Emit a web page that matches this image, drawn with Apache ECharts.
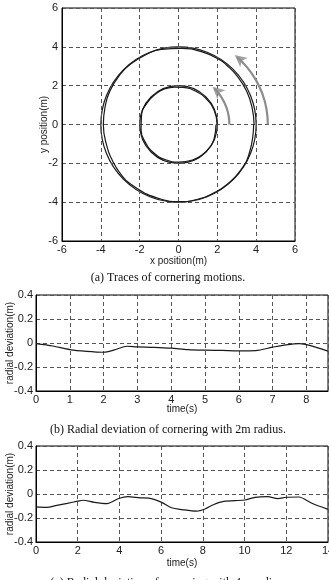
<!DOCTYPE html>
<html><head><meta charset="utf-8">
<script src="https://cdn.jsdelivr.net/npm/echarts@6/dist/echarts.min.js"></script>
<style>html,body{margin:0;padding:0;background:#fff}#c{width:329px;height:580px}</style>
</head><body><div id="c"></div>
<script>
// ---- data ----
const refRadii = [2, 4];                 // commanded cornering radii (m)
const arrowRadii = [2.62, 4.6];           // direction arrows (m)
const arrowArcAngles = [0, 9, 18, 27, 36, 45];   // deg, inner arrow arc
const arrowArcAngles2 = [0, 10, 20, 30, 40, 49]; // deg, outer arrow arc
const arrowHeadAngles = [48, 51];         // deg
const posTicks = [-6, -4, -2, 0, 2, 4, 6];

// (b) radial deviation, 2 m radius
const tB   = [0, 0.5, 1, 1.5, 2, 2.3, 2.7, 3, 3.5, 4, 4.5, 5, 5.5, 6, 6.5, 7, 7.4, 7.8, 8.1, 8.64];
const devB = [-0.005, -0.025, -0.055, -0.07, -0.077, -0.06, -0.027, -0.032, -0.036, -0.043, -0.055, -0.06, -0.062, -0.065, -0.063, -0.035, -0.015, -0.005, -0.02, -0.068];

// (c) radial deviation, 4 m radius
const tC   = [0, 0.5, 1, 1.5, 2, 2.25, 2.8, 3.4, 4, 4.4, 5, 5.4, 6, 6.5, 7, 7.7, 8.1, 8.5, 9, 10, 10.5, 11.1, 11.6, 12, 12.6, 13.2, 14];
const devC = [-0.108, -0.112, -0.095, -0.078, -0.06, -0.052, -0.07, -0.08, -0.035, -0.022, -0.032, -0.035, -0.068, -0.115, -0.13, -0.143, -0.125, -0.09, -0.062, -0.05, -0.028, -0.022, -0.038, -0.027, -0.025, -0.075, -0.128];

const captions = ['(a) Traces of cornering motions.',
                  '(b) Radial deviation of cornering with 2m radius.',
                  '(c) Radial deviation of cornering with 4m radius.'];

// ---- styling ----
const SANS = 'Liberation Sans, Arial, sans-serif';
const SERIF = 'Liberation Serif, Times New Roman, serif';
const txt = '#222';
const dash = {show: true, lineStyle: {color: '#555', width: 1, type: [4, 3]}};
const axLine = {show: true, onZero: false, lineStyle: {color: '#000', width: 1}};
const lbl = {color: txt, fontFamily: SANS, fontSize: 11};
const nameStyle = {color: txt, fontFamily: SANS, fontSize: 10};

const CX = 178.5, CY = 124.5, R6 = 116.5;
const hiddenPolarAxis = {axisLine: {show: false}, axisTick: {show: false}, axisLabel: {show: false}, splitLine: {show: false}};

const chart = echarts.init(document.getElementById('c'), null, {renderer: 'canvas'});
chart.setOption({
  animation: false,
  backgroundColor: '#fff',
  grid: [
    {left: 62, top: 8, width: 233, height: 233, show: true, borderColor: '#000', borderWidth: 1, containLabel: false, outerBoundsMode: 'none'},
    {left: 36, top: 295, width: 292, height: 96, show: true, borderColor: '#000', borderWidth: 1, containLabel: false, outerBoundsMode: 'none'},
    {left: 36, top: 446, width: 292, height: 96, show: true, borderColor: '#000', borderWidth: 1, containLabel: false, outerBoundsMode: 'none'}
  ],
  xAxis: [
    {gridIndex: 0, type: 'value', min: -6, max: 6, interval: 2, axisLine: axLine, axisTick: {show: false},
     axisLabel: Object.assign({margin: 3}, lbl), splitLine: dash, nameMoveOverlap: false,
     name: 'x position(m)', nameLocation: 'middle', nameGap: 15, nameTextStyle: nameStyle},
    {gridIndex: 1, type: 'value', min: 0, max: tB[tB.length - 1], interval: 1, axisLine: axLine, axisTick: {show: false},
     axisLabel: Object.assign({margin: 3, showMaxLabel: false}, lbl), splitLine: dash, nameMoveOverlap: false,
     name: 'time(s)', nameLocation: 'middle', nameGap: 13, nameTextStyle: nameStyle},
    {gridIndex: 2, type: 'value', min: 0, max: 14, interval: 2, axisLine: axLine, axisTick: {show: false},
     axisLabel: Object.assign({margin: 3}, lbl), splitLine: dash, nameMoveOverlap: false,
     name: 'time(s)', nameLocation: 'middle', nameGap: 16, nameTextStyle: nameStyle}
  ],
  yAxis: [
    {gridIndex: 0, type: 'value', min: -6, max: 6, interval: 2, axisLine: axLine, axisTick: {show: false},
     axisLabel: Object.assign({margin: 4}, lbl), splitLine: dash, nameMoveOverlap: false,
     name: 'y position(m)', nameLocation: 'middle', nameGap: 13, nameTextStyle: nameStyle},
    {gridIndex: 1, type: 'value', min: -0.4, max: 0.4, interval: 0.2, axisLine: axLine, axisTick: {show: false},
     axisLabel: Object.assign({margin: 3}, lbl), splitLine: dash, nameMoveOverlap: false,
     name: 'radial deviation(m)', nameLocation: 'middle', nameGap: 21, nameTextStyle: nameStyle},
    {gridIndex: 2, type: 'value', min: -0.4, max: 0.4, interval: 0.2, axisLine: axLine, axisTick: {show: false},
     axisLabel: Object.assign({margin: 3}, lbl), splitLine: dash, nameMoveOverlap: false,
     name: 'radial deviation(m)', nameLocation: 'middle', nameGap: 21, nameTextStyle: nameStyle}
  ],
  polar: [
    {center: [CX, CY], radius: R6 * refRadii[1] / 6},
    {center: [CX, CY], radius: R6},
    {center: [CX, CY], radius: R6},
    {center: [CX, CY], radius: R6}
  ],
  radiusAxis: [
    {polarIndex: 0, type: 'value', min: 0, max: refRadii[1], interval: refRadii[1] - refRadii[0],
     axisLine: {show: false}, axisTick: {show: false}, axisLabel: {show: false},
     splitLine: {show: true, lineStyle: {color: '#1a1a1a', width: 1.2}}},
    Object.assign({polarIndex: 1, type: 'value', min: 0, max: 6}, hiddenPolarAxis),
    Object.assign({polarIndex: 2, type: 'value', min: 0, max: 6}, hiddenPolarAxis),
    Object.assign({polarIndex: 3, type: 'value', min: 0, max: 6}, hiddenPolarAxis)
  ],
  angleAxis: [
    Object.assign({polarIndex: 0, type: 'value', min: 0, max: 360, startAngle: 0, clockwise: false}, hiddenPolarAxis),
    Object.assign({polarIndex: 1, type: 'value', min: 0, max: tB[tB.length - 1], startAngle: 0, clockwise: false}, hiddenPolarAxis),
    Object.assign({polarIndex: 2, type: 'value', min: 0, max: tC[tC.length - 1], startAngle: 0, clockwise: false}, hiddenPolarAxis),
    Object.assign({polarIndex: 3, type: 'value', min: 0, max: 360, startAngle: 0, clockwise: false}, hiddenPolarAxis)
  ],
  series: [
    {type: 'line', coordinateSystem: 'polar', polarIndex: 1, symbol: 'none', smooth: 0.5,
     lineStyle: {color: '#1a1a1a', width: 1.2},
     data: tB.map((t, i) => [refRadii[0] + devB[i], t])},
    {type: 'line', coordinateSystem: 'polar', polarIndex: 2, symbol: 'none', smooth: 0.5,
     lineStyle: {color: '#1a1a1a', width: 1.2},
     data: tC.map((t, i) => [refRadii[1] + devC[i], t])},
    {type: 'line', coordinateSystem: 'polar', polarIndex: 3, symbol: 'none', smooth: 0.5,
     lineStyle: {color: '#8c8c8c', width: 2.2},
     data: arrowArcAngles.map(a => [arrowRadii[0], a])},
    {type: 'line', coordinateSystem: 'polar', polarIndex: 3, symbol: 'none', smooth: 0.5,
     lineStyle: {color: '#8c8c8c', width: 2.2},
     data: arrowArcAngles2.map(a => [arrowRadii[1], a])},
    {type: 'scatter', coordinateSystem: 'polar', polarIndex: 3, symbol: 'arrow', symbolSize: [9, 12],
     itemStyle: {color: '#8c8c8c'},
     data: arrowRadii.map((r, i) => ({value: [r, arrowHeadAngles[i]], symbolRotate: arrowHeadAngles[i]}))},
    {type: 'line', xAxisIndex: 1, yAxisIndex: 1, symbol: 'none', smooth: 0.3,
     lineStyle: {color: '#1a1a1a', width: 1.2},
     data: tB.map((t, i) => [t, devB[i]])},
    {type: 'line', xAxisIndex: 2, yAxisIndex: 2, symbol: 'none', smooth: 0.3,
     lineStyle: {color: '#1a1a1a', width: 1.2},
     data: tC.map((t, i) => [t, devC[i]])}
  ],
  graphic: [
    {type: 'text', x: 168, y: 277.5, style: {text: captions[0], textAlign: 'center', textVerticalAlign: 'middle', font: '12px ' + SERIF, fill: '#111'}},
    {type: 'text', x: 168, y: 430, style: {text: captions[1], textAlign: 'center', textVerticalAlign: 'middle', font: '12px ' + SERIF, fill: '#111'}},
    {type: 'text', x: 168, y: 582.5, style: {text: captions[2], textAlign: 'center', textVerticalAlign: 'middle', font: '12px ' + SERIF, fill: '#111'}}
  ]
});
</script>
</body></html>
